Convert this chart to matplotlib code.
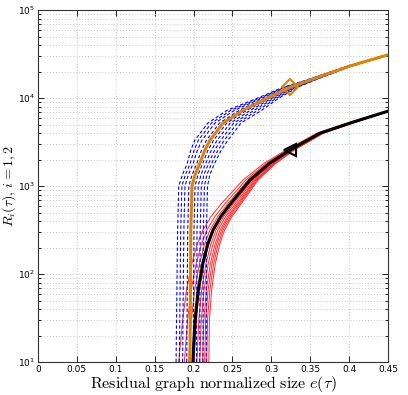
import numpy as np
import matplotlib
matplotlib.use('Agg')
import matplotlib.pyplot as plt
from matplotlib.ticker import FixedLocator, FixedFormatter, LogFormatterMathtext, LogLocator

plt.rcParams['mathtext.fontset'] = 'cm'

# mean curve i=1 (orange) and x-spread of the blue dashed runs around it
orange_x = [0.1954, 0.1965, 0.198, 0.202, 0.208, 0.214, 0.221, 0.238, 0.264, 0.294, 0.324, 0.35, 0.40, 0.45]
orange_r = [10, 300, 1000, 1350, 1800, 2500, 3300, 5200, 7300, 9900, 13300, 16000, 23000, 31000]
blue_spread = [0.021, 0.02, 0.02, 0.019, 0.019, 0.021, 0.023, 0.023, 0.024, 0.015, 0.01, 0.006, 0.003, 0.001]
blue_offsets = [-0.85, -0.65, -0.45, -0.2, 0.0, 0.2, 0.4, 0.6, 0.8, 1.0]

# mean curve i=2 (black) and x-spread of the red runs around it
black_x = [0.199, 0.202, 0.206, 0.212, 0.218, 0.225, 0.235, 0.247, 0.2726, 0.298, 0.324, 0.3626, 0.405, 0.45]
black_r = [10, 30, 66, 133, 215, 316, 450, 620, 1170, 1820, 2570, 3990, 5330, 7100]
red_spread = [0.018, 0.016, 0.015, 0.014, 0.0135, 0.013, 0.0125, 0.012, 0.009, 0.007, 0.005, 0.004, 0.003, 0.002]
red_offsets = [-1.0, -0.6, -0.3, 0.1, 0.3, 0.5, 0.7, 0.85, 1.0, 1.15]

# marker positions
mark_x = 0.324
orange_mark = 13300
black_mark = 2570

xticks = [0, 0.05, 0.1, 0.15, 0.2, 0.25, 0.3, 0.35, 0.4, 0.45]
xticklabels = ['0', '0.05', '0.1', '0.15', '0.2', '0.25', '0.3', '0.35', '0.4', '0.45']

orange = '#dd8500'

fig = plt.figure(figsize=(4.08, 3.95), dpi=100)
ax = fig.add_axes([0.093, 0.0835, 0.858, 0.891])

ox = np.array(orange_x); bx = np.array(black_x)
for off in red_offsets:
    ax.plot(bx + off*np.array(red_spread), black_r, color='#ff2a2a', lw=0.7, zorder=2)
for off in blue_offsets:
    ax.plot(ox + off*np.array(blue_spread), orange_r, color='blue', lw=0.8, ls=(0, (3, 2)), zorder=3)

ax.plot(black_x, black_r, color='black', lw=2.2, zorder=4)
ax.plot(orange_x, orange_r, color=orange, lw=2.2, zorder=5)
ax.plot([mark_x], [orange_mark], marker='D', ms=8, mfc='none', mec=orange, mew=1.5, zorder=6)
ax.plot([mark_x], [black_mark], marker='<', ms=9, mfc='none', mec='black', mew=1.5, zorder=6)

ax.set_yscale('log')
ax.set_xlim(0, 0.45)
ax.set_ylim(10, 1e5)
ax.xaxis.set_major_locator(FixedLocator(xticks))
ax.xaxis.set_major_formatter(FixedFormatter(xticklabels))
ax.yaxis.set_major_locator(LogLocator(base=10))
ax.yaxis.set_major_formatter(LogFormatterMathtext())

ax.grid(True, which='major', ls=(0, (1, 2.5)), color='#b8b8b8', lw=0.6)
ax.yaxis.grid(True, which='minor', ls=(0, (1, 2.5)), color='#b8b8b8', lw=0.6)
ax.tick_params(which='both', direction='in', top=True, right=True, labelsize=6.5, width=0.6)
ax.tick_params(which='major', length=4)
ax.tick_params(axis='x', pad=2)
ax.tick_params(axis='y', pad=2)
ax.tick_params(which='minor', length=2)
for s in ax.spines.values():
    s.set_linewidth(0.8)
    s.set_color('#333333')

ax.set_xlabel(r'$\mathrm{Residual\ graph\ normalized\ size}\ e(\tau)$', fontsize=11.5)
ax.set_ylabel(r'$R_i(\tau),\, i=1,2$', fontsize=10)
ax.xaxis.set_label_coords(0.5, -0.034)
ax.yaxis.set_label_coords(-0.057, 0.5)

fig.savefig('out.png', dpi=100)
